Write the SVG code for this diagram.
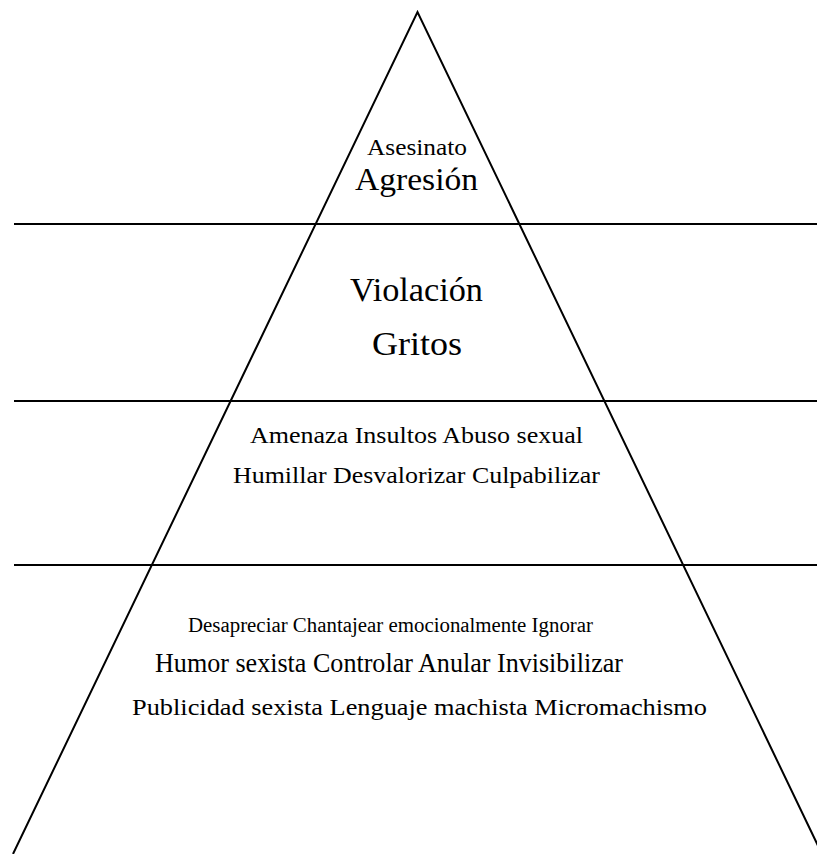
<svg xmlns="http://www.w3.org/2000/svg" width="817" height="854" viewBox="0 0 817 854">
<style>
.ln{stroke:#000;stroke-width:2;fill:none}
text{font-family:"Liberation Serif","DejaVu Serif",serif;fill:#000;text-anchor:middle}
</style>
<rect width="817" height="854" fill="#fff"/>
<g id="connectors">
<line class="ln" x1="14" y1="224" x2="817" y2="224"/>
<line class="ln" x1="14" y1="401" x2="817" y2="401"/>
<line class="ln" x1="14" y1="565" x2="817" y2="565"/>
<polyline class="ln" points="13,854 417.5,12 822,854"/>
</g>
<g id="level1">
<text x="417" y="155" font-size="23" textLength="100" lengthAdjust="spacingAndGlyphs">Asesinato</text>
<text x="416.5" y="190" font-size="32" textLength="123" lengthAdjust="spacingAndGlyphs">Agresión</text>
</g>
<g id="level2">
<text x="416.5" y="300.5" font-size="33" textLength="133" lengthAdjust="spacingAndGlyphs">Violación</text>
<text x="417" y="355" font-size="33" textLength="90" lengthAdjust="spacingAndGlyphs">Gritos</text>
</g>
<g id="level3">
<text x="416.5" y="443" font-size="24" textLength="333" lengthAdjust="spacingAndGlyphs">Amenaza Insultos Abuso sexual</text>
<text x="416.5" y="483" font-size="24" textLength="367" lengthAdjust="spacingAndGlyphs">Humillar Desvalorizar Culpabilizar</text>
</g>
<g id="level4">
<text x="390.5" y="632" font-size="20" textLength="405" lengthAdjust="spacingAndGlyphs">Desapreciar Chantajear emocionalmente Ignorar</text>
<text x="389" y="672" font-size="27" textLength="468" lengthAdjust="spacingAndGlyphs">Humor sexista Controlar Anular Invisibilizar</text>
<text x="419.5" y="715" font-size="23" textLength="575" lengthAdjust="spacingAndGlyphs">Publicidad sexista Lenguaje machista Micromachismo</text>
</g>
</svg>
